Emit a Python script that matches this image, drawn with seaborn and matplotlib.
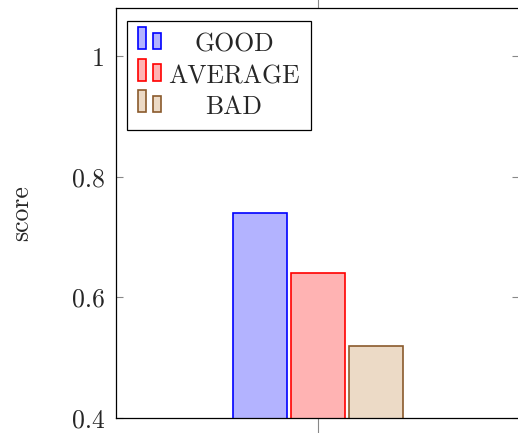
"""Score by rating class - ybar chart"""
import pandas as pd
import matplotlib
matplotlib.use("Agg")
import matplotlib.pyplot as plt
import seaborn as sns
from matplotlib.patches import Rectangle

# Data
categories = ["GOOD", "AVERAGE", "BAD"]
scores = [0.74, 0.64, 0.52]
group = ["run", "run", "run"]
ytick_values = [0.4, 0.6, 0.8, 1.0]
ytick_labels = ["0.4", "0.6", "0.8", "1"]

face_colors = ["#b3b3ff", "#ffb3b3", "#ecdac6"]
edge_colors = ["#0000ff", "#ff0000", "#8a5a2c"]

# Style
sns.set_style("white")
plt.rcParams['font.family'] = ['cmr10', 'DejaVu Serif']
plt.rcParams['axes.formatter.use_mathtext'] = True
FS = 18.5

df = pd.DataFrame({"group": group, "label": categories, "score": scores})


class YbarHandler:
    """Two little bars like pgfplots' ybar legend image"""
    def legend_artist(self, legend, orig_handle, fontsize, handlebox):
        x0, y0 = handlebox.xdescent, handlebox.ydescent
        w, h = handlebox.width, handlebox.height
        fc = orig_handle.get_facecolor()
        ec = orig_handle.get_edgecolor()
        bw = w * 0.34
        r1 = Rectangle((x0, y0), bw, h, facecolor=fc, edgecolor=ec, lw=1.2,
                       transform=handlebox.get_transform())
        r2 = Rectangle((x0 + w - bw, y0), bw, h * 0.75, facecolor=fc, edgecolor=ec,
                       lw=1.2, transform=handlebox.get_transform())
        handlebox.add_artist(r1)
        handlebox.add_artist(r2)
        return r1


fig = plt.figure(figsize=(5.18, 4.33), dpi=100)
ax = fig.add_axes([115.5 / 518, 15 / 433, (519 - 115.5) / 518, (418 - 8) / 433])

sns.barplot(data=df, x="group", y="score", hue="label", hue_order=categories,
            palette=face_colors, saturation=1, width=0.8, gap=0.07,
            linewidth=1.2, legend=False, ax=ax)
for cont, ec in zip(ax.containers, edge_colors):
    for bar in cont.patches:
        bar.set_edgecolor(ec)

ax.set_xlim(-0.931, 0.924)
ax.set_ylim(0.4, 1.08)
ax.set_yticks(ytick_values)
ax.set_yticklabels(ytick_labels, fontsize=FS)
ax.set_xticks([0])
ax.set_xticklabels([""])
ax.set_xlabel("")
ax.set_ylabel("score", fontsize=FS)
ax.yaxis.set_label_coords(-0.205, 0.5)

ax.tick_params(axis='y', direction='in', left=True, right=True, length=5,
               width=0.8, color='#888888', pad=8)
ax.tick_params(axis='x', direction='out', bottom=True, top=True, length=12,
               width=0.8, color='#888888')
for sp in ax.spines.values():
    sp.set_color('black')
    sp.set_linewidth(0.9)

handles = [cont.patches[0] for cont in ax.containers]
leg = ax.legend(handles, categories, loc='upper left',
                bbox_to_anchor=(11.5 / 403.5, 1 - 13 / 410), borderaxespad=0,
                fontsize=FS, handler_map={Rectangle: YbarHandler()},
                handlelength=0.92, handleheight=0.95, handletextpad=0.27,
                labelspacing=0.25, borderpad=0.42, fancybox=False,
                framealpha=1, edgecolor='black')
leg.get_frame().set_linewidth(0.9)

# centre the legend texts like pgfplots does
fig.canvas.draw()
renderer = fig.canvas.get_renderer()
widths = [t.get_window_extent(renderer).width for t in leg.get_texts()]
wmax = max(widths)
for t, w in zip(leg.get_texts(), widths):
    t.set_x((wmax - w) / 2)

fig.savefig('out.png', dpi=100)
